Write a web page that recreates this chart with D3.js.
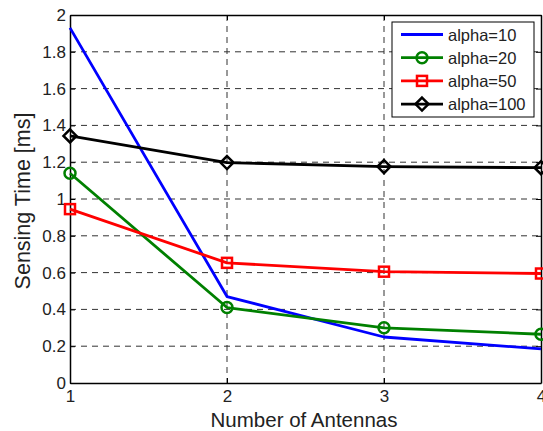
<!DOCTYPE html>
<html>
<head>
<meta charset="utf-8">
<script src="https://cdn.jsdelivr.net/npm/d3@7"></script>
<style>
  body { margin: 0; background: #fff; }
  svg { display: block; font-family: "Liberation Sans", Arial, sans-serif; }
</style>
</head>
<body>
<svg id="chart" width="543" height="431"></svg>
<script>
// data
var antennas = [1, 2, 3, 4];
var alpha10 = [1.93, 0.47, 0.25, 0.185];
var alpha20 = [1.14, 0.41, 0.30, 0.265];
var alpha50 = [0.945, 0.653, 0.605, 0.595];
var alpha100 = [1.343, 1.198, 1.176, 1.17];
var yTicks = [0, 0.2, 0.4, 0.6, 0.8, 1, 1.2, 1.4, 1.6, 1.8, 2];
var seriesNames = ["alpha=10", "alpha=20", "alpha=50", "alpha=100"];

var margin = { top: 15, right: 2, bottom: 48, left: 70 },
    width = 543 - margin.left - margin.right,
    height = 431 - margin.top - margin.bottom;

var series = [
    { name: seriesNames[0], values: alpha10, color: "#0000ff", marker: "none" },
    { name: seriesNames[1], values: alpha20, color: "#008000", marker: "circle" },
    { name: seriesNames[2], values: alpha50, color: "#ff0000", marker: "square" },
    { name: seriesNames[3], values: alpha100, color: "#000000", marker: "diamond" }
];

var svg = d3.select("#chart");
var g = svg.append("g").attr("transform", "translate(" + margin.left + "," + margin.top + ")");

var x = d3.scaleLinear().domain([1, 4]).range([0, width]);
var y = d3.scaleLinear().domain([0, 2]).range([height, 0]);

// grid
g.append("g").selectAll("line").data(yTicks.slice(1, -1)).join("line")
    .attr("x1", 0).attr("x2", width)
    .attr("y1", function (d) { return y(d); }).attr("y2", function (d) { return y(d); })
    .attr("stroke", "#333").attr("stroke-width", 1).attr("stroke-dasharray", "6,5");
g.append("g").selectAll("line").data(antennas.slice(1, -1)).join("line")
    .attr("x1", function (d) { return x(d); }).attr("x2", function (d) { return x(d); })
    .attr("y1", 0).attr("y2", height)
    .attr("stroke", "#333").attr("stroke-width", 1).attr("stroke-dasharray", "6,5");

// axes (ticks inside)
var xAxis = g.append("g").attr("transform", "translate(0," + height + ")")
    .call(d3.axisBottom(x).tickValues(antennas).tickFormat(d3.format("d")).tickSizeInner(-5).tickSizeOuter(0).tickPadding(7));
var yAxis = g.append("g")
    .call(d3.axisLeft(y).tickValues(yTicks).tickFormat(function (d) { return d3.format("")(d); }).tickSizeInner(-5).tickSizeOuter(0).tickPadding(4));
g.append("g").call(d3.axisTop(x).tickValues(antennas).tickFormat("").tickSizeInner(-5).tickSizeOuter(0));
g.append("g").attr("transform", "translate(" + width + ",0)")
    .call(d3.axisRight(y).tickValues(yTicks).tickFormat("").tickSizeInner(-5).tickSizeOuter(0));
g.selectAll(".domain").attr("stroke", "#000").attr("stroke-width", 1.5);
g.selectAll(".tick line").attr("stroke", "#000");
xAxis.selectAll("text").attr("font-size", 17).attr("fill", "#222").attr("font-family", "Liberation Sans, Arial, sans-serif");
yAxis.selectAll("text").attr("font-size", 17).attr("fill", "#222").attr("font-family", "Liberation Sans, Arial, sans-serif");

// lines
var line = d3.line()
    .x(function (d, i) { return x(antennas[i]); })
    .y(function (d) { return y(d); });

series.forEach(function (s) {
    g.append("path").datum(s.values)
        .attr("d", line).attr("fill", "none")
        .attr("stroke", s.color).attr("stroke-width", 2.8).attr("stroke-linejoin", "round");
});

function drawMarker(sel, type, color) {
    if (type == "circle") {
        sel.append("circle").attr("r", 5.5).attr("fill", "none").attr("stroke", color).attr("stroke-width", 2.5);
    } else if (type == "square") {
        sel.append("rect").attr("x", -5).attr("y", -5).attr("width", 10).attr("height", 10)
            .attr("fill", "none").attr("stroke", color).attr("stroke-width", 2.5);
    } else if (type == "diamond") {
        sel.append("path").attr("d", "M0,-6.5L6.5,0L0,6.5L-6.5,0Z")
            .attr("fill", "none").attr("stroke", color).attr("stroke-width", 2.5);
    }
}

series.forEach(function (s) {
    if (s.marker == "none") return;
    s.values.forEach(function (v, i) {
        var m = g.append("g").attr("transform", "translate(" + x(antennas[i]) + "," + y(v) + ")");
        drawMarker(m, s.marker, s.color);
    });
});

// legend
var legend = svg.append("g").attr("transform", "translate(392,22)");
legend.append("rect").attr("width", 142).attr("height", 95)
    .attr("fill", "#fff").attr("stroke", "#000").attr("stroke-width", 1);
series.forEach(function (s, i) {
    var row = legend.append("g").attr("transform", "translate(0," + (12.5 + i * 23.2) + ")");
    row.append("line").attr("x1", 9).attr("x2", 51).attr("y1", 0).attr("y2", 0)
        .attr("stroke", s.color).attr("stroke-width", 2.8);
    var m = row.append("g").attr("transform", "translate(30,0)");
    drawMarker(m, s.marker, s.color);
    row.append("text").attr("x", 56).attr("y", 6).attr("font-size", 16.5).attr("fill", "#222").text(s.name);
});

// axis titles
svg.append("text").attr("x", 304).attr("y", 427)
    .attr("text-anchor", "middle").attr("font-size", 20.5).attr("fill", "#222").text("Number of Antennas");
svg.append("text").attr("transform", "translate(30,201) rotate(-90)")
    .attr("text-anchor", "middle").attr("font-size", 21.5).attr("fill", "#222").text("Sensing Time [ms]");
</script>
</body>
</html>
